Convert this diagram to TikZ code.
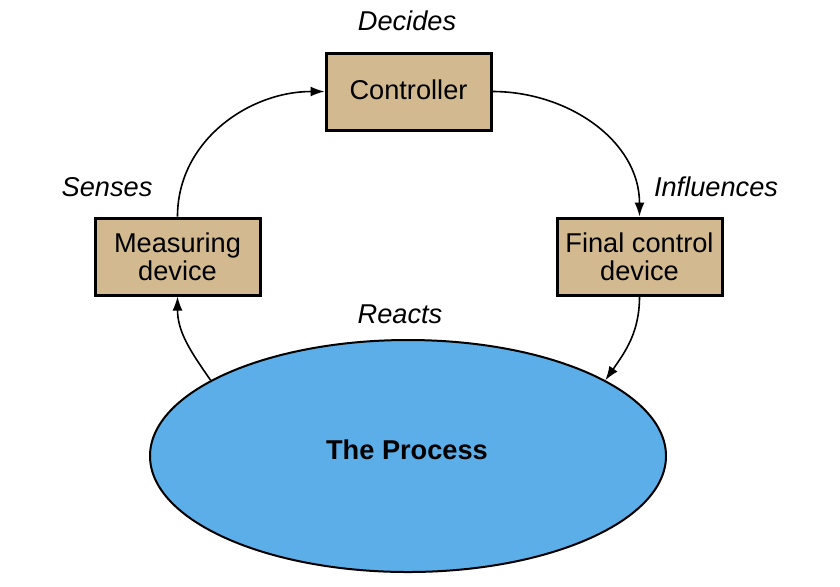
\documentclass[tikz,border=0pt]{standalone}
\usepackage{fontspec}
\setmainfont{Liberation Sans}
\usetikzlibrary{shapes.geometric,arrows.meta}
\definecolor{boxtan}{RGB}{210,185,143}
\definecolor{procblue}{RGB}{92,174,232}
\begin{document}
\begin{tikzpicture}[x=0.5pt,y=-0.5pt,
  every node/.style={font=\fontsize{13.6}{13.8}\selectfont},
  blockbox/.style={draw=black,line width=1.5pt,fill=boxtan,minimum width=82.5pt,minimum height=38.5pt,inner sep=0pt,align=center},
  lbl/.style={font=\fontsize{13.6}{13.8}\selectfont\itshape},
  conn/.style={draw=black,line width=0.8pt,-{Latex[length=7pt,width=5pt]}}]
\useasboundingbox (0,0) rectangle (840,586);
\node[blockbox] (ctrl) at (408.5,91.5) {\raisebox{1.5pt}{Controller}};
\node[blockbox] (meas) at (177.5,256.5) {Measuring\\device};
\node[blockbox] (fcd) at (639.5,256.5) {Final control\\device};
\node[ellipse,draw=black,line width=1pt,fill=procblue,minimum width=258pt,minimum height=116pt,inner sep=0pt] (proc) at (408,456) {};
\node[font=\fontsize{13.6}{13.8}\selectfont\bfseries] (ptext) at (407,450) {The Process};
\node[lbl] (ldec) at (407,21) {Decides};
\node[lbl] (lsen) at (107,187) {Senses};
\node[lbl] (linf) at (716,187) {Influences};
\node[lbl] (lrea) at (400,314) {Reacts};
\draw[conn] (meas.north) to[out=90,in=180] (ctrl.west);
\draw[conn] (ctrl.east) to[out=0,in=90] (fcd.north);
\draw[conn] (fcd.south) to[out=-90,in=55] (proc.21);
\draw[conn] (proc.159) to[out=125,in=-90] (meas.south);
\end{tikzpicture}
\end{document}
